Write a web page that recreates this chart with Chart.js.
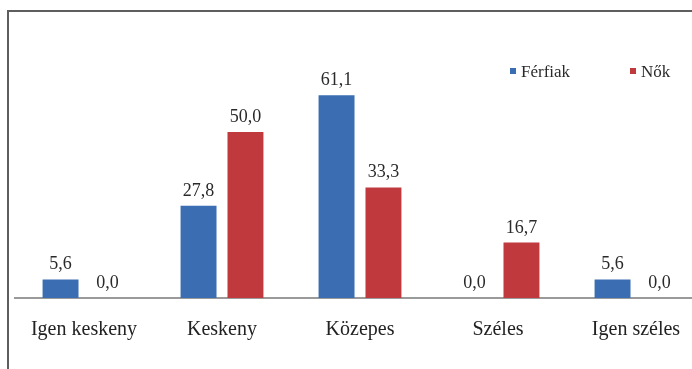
<!DOCTYPE html>
<html>
<head>
<meta charset="utf-8">
<script src="https://cdn.jsdelivr.net/npm/chart.js@4.4.1/dist/chart.umd.min.js"></script>
<style>
  html, body { margin: 0; padding: 0; background: #fff; overflow: hidden; }
  #wrap { position: absolute; left: 0; top: 0; width: 720px; height: 369px; }
  #frame { position: absolute; left: 7px; top: 10px; width: 760px; height: 400px; border: 2px solid #5e5e5e; box-sizing: border-box; }
</style>
</head>
<body>
<div id="frame"></div>
<div id="wrap"><canvas id="chart"></canvas></div>
<script>
const categories = ['Igen keskeny', 'Keskeny', 'Közepes', 'Széles', 'Igen széles'];
const seriesNames = ['Férfiak', 'Nők'];
const ferfiak = [5.6, 27.8, 61.1, 0.0, 5.6];
const nok = [0.0, 50.0, 33.3, 16.7, 0.0];

const FONT = '"Liberation Serif", "DejaVu Serif", serif';

function fmt(v) {
  return v.toFixed(1).replace('.', ',');
}

// value above each bar, comma decimals
const valueLabels = {
  id: 'valueLabels',
  afterDatasetsDraw(chart) {
    const { ctx } = chart;
    ctx.save();
    ctx.font = '18px ' + FONT;
    ctx.fillStyle = '#2a2a2a';
    ctx.textAlign = 'center';
    ctx.textBaseline = 'alphabetic';
    chart.data.datasets.forEach((ds, i) => {
      chart.getDatasetMeta(i).data.forEach((bar, j) => {
        ctx.fillText(fmt(ds.data[j]), bar.x, bar.y - 10);
      });
    });
    ctx.restore();
  }
};

// legend sits inside the plot, top right
const sideLegend = {
  id: 'sideLegend',
  afterDraw(chart) {
    const { ctx } = chart;
    const spots = [510, 630];
    ctx.save();
    ctx.font = '17px ' + FONT;
    ctx.textBaseline = 'alphabetic';
    ctx.textAlign = 'left';
    chart.data.datasets.forEach((ds, i) => {
      const x = spots[i];
      ctx.fillStyle = ds.backgroundColor;
      ctx.fillRect(x, 68, 6, 6);
      ctx.fillStyle = '#2a2a2a';
      ctx.fillText(ds.label, x + 11, 77);
    });
    ctx.restore();
  }
};

new Chart(document.getElementById('chart'), {
  type: 'bar',
  data: {
    labels: categories,
    datasets: [
      { label: seriesNames[0], data: ferfiak, backgroundColor: '#3b6db3' },
      { label: seriesNames[1], data: nok, backgroundColor: '#c0393c' }
    ]
  },
  options: {
    responsive: true,
    maintainAspectRatio: false,
    animation: false,
    categoryPercentage: 0.68,
    barPercentage: 0.766,
    layout: { padding: { left: 15, right: 15, top: 59, bottom: 15 } },
    plugins: {
      legend: { display: false },
      tooltip: { enabled: false }
    },
    scales: {
      x: {
        grid: { display: false },
        border: { display: true, color: '#9a9a9a', width: 2 },
        ticks: { color: '#222', padding: 12, font: { family: FONT, size: 20 } }
      },
      y: {
        display: false,
        min: 0,
        max: 72
      }
    }
  },
  plugins: [valueLabels, sideLegend]
});
</script>
</body>
</html>
